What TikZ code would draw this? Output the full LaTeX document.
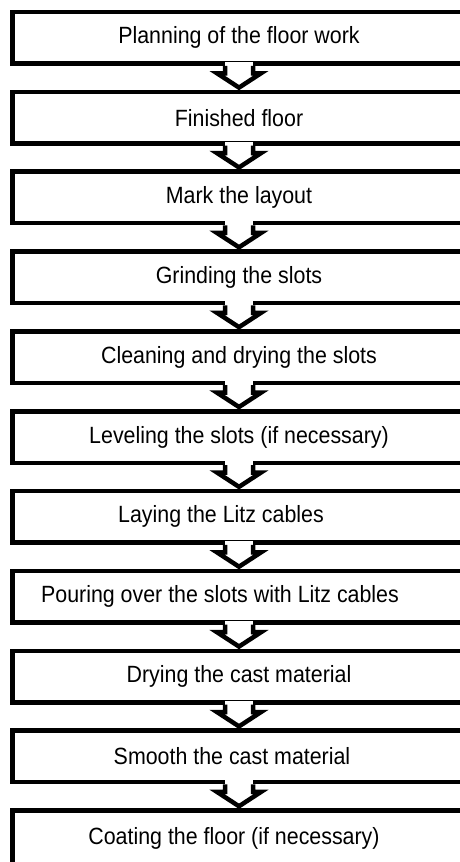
\documentclass[tikz,border=0pt]{standalone}
\usepackage{fontspec}
\setmainfont[FakeStretch=0.91]{Liberation Sans}
\usepackage{tikz}
\usetikzlibrary{calc}
\tikzstyle{stepbox}=[rectangle,draw=black,fill=white,line width=4.5pt,
                     minimum width=475pt,minimum height=51.5pt,inner sep=0pt,
                     font=\fontsize{23.5}{27}\selectfont]
\tikzstyle{steparrow}=[draw=black,line width=4.5pt,line join=miter]
\newcommand\steplabel[2][22pt]{#2\hspace*{#1}}
\newcommand\vertspacing{79.85}
\newcommand\arrowx{-11}
\newcommand\stepdown[2]{%
    \fill [white] ($(#1.south)+(\arrowx-14,-4)$) rectangle ($(#1.south)+(\arrowx+14,4)$);
    \draw [steparrow] ($(#1.south)+(\arrowx-14,0)$) -- ++(0,7.5) -- ++(-8,0)
        -- ($(#2.north)+(\arrowx,-2)$) -- ($(#1.south)+(\arrowx+22,7.5)$) -- ++(-8,0) -- ++(0,-7.5);
}

\begin{document}
\begin{tikzpicture}[x=1pt,y=-1pt]
    	\useasboundingbox [fill=white] (0,0) rectangle (460,862);
    	\node [stepbox] (planning) at ($(250,37.75)+(0,\vertspacing*0)$) {
    		\steplabel{Planning of the floor work}
    	};
    	\node [stepbox] (finished) at ($(250,37.75)+(0,\vertspacing*1)$) {
    		\steplabel{Finished floor}
    	};
    	\node [stepbox] (layout) at ($(250,37.75)+(0,\vertspacing*2)$) {
    		\steplabel{Mark the layout}
    	};
    	\node [stepbox] (grinding) at ($(250,37.75)+(0,\vertspacing*3)$) {
    		\steplabel{Grinding the slots}
    	};
    	\node [stepbox] (cleaning) at ($(250,37.75)+(0,\vertspacing*4)$) {
    		\steplabel{Cleaning and drying the slots}
    	};
    	\node [stepbox] (leveling) at ($(250,37.75)+(0,\vertspacing*5)$) {
    		\steplabel{Leveling the slots (if necessary)}
    	};
    	\node [stepbox] (laying) at ($(250,37.75)+(0,\vertspacing*6)$) {
    		\steplabel[58pt]{Laying the Litz cables}
    	};
    	\node [stepbox] (pouring) at ($(250,37.75)+(0,\vertspacing*7)$) {
    		\steplabel[60pt]{Pouring over the slots with Litz cables}
    	};
    	\node [stepbox] (drying) at ($(250,37.75)+(0,\vertspacing*8)$) {
    		\steplabel{Drying the cast material}
    	};
    	\node [stepbox] (smoothing) at ($(250,37.75)+(0,\vertspacing*9)$) {
    		\steplabel[36pt]{Smooth the cast material}
    	};
    	% last box runs off the bottom edge
    	\node [stepbox,minimum height=56pt] (coating) at ($(250,40)+(0,\vertspacing*10)$) {
    		\steplabel[32pt]{Coating the floor (if necessary)}
    	};
    	% arrows between the steps
    	\stepdown{planning}{finished}
    	\stepdown{finished}{layout}
    	\stepdown{layout}{grinding}
    	\stepdown{grinding}{cleaning}
    	\stepdown{cleaning}{leveling}
    	\stepdown{leveling}{laying}
    	\stepdown{laying}{pouring}
    	\stepdown{pouring}{drying}
    	\stepdown{drying}{smoothing}
    	\stepdown{smoothing}{coating}
    \end{tikzpicture}
\end{document}
